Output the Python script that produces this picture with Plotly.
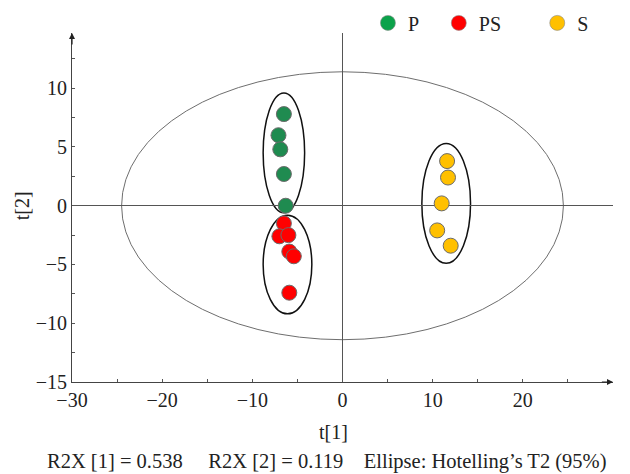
import plotly.graph_objects as go

# ---- data ----
groups = ["P", "PS", "S"]
p_t1 = [-6.5, -7.1, -6.9, -6.5, -6.3]
p_t2 = [7.8, 6.0, 4.8, 2.7, 0.0]
ps_t1 = [-6.5, -7.0, -6.0, -5.9, -5.4, -5.9]
ps_t2 = [-1.5, -2.6, -2.5, -3.9, -4.3, -7.4]
s_t1 = [11.6, 11.7, 11.0, 10.5, 12.0]
s_t2 = [3.8, 2.4, 0.2, -2.1, -3.4]

# ellipses: Hotelling T2 (big) + group ellipses
ell_cx = [0.0, -6.5, -6.1, 11.5]
ell_cy = [0.0, 4.5, -5.0, 0.2]
ell_rx = [24.5, 2.3, 2.7, 2.7]
ell_ry = [11.4, 5.1, 4.2, 5.1]

x_ticks = [-30, -20, -10, 0, 10, 20]
y_ticks = [-15, -10, -5, 0, 5, 10]
x_minor = [-25, -15, -5, 5, 15, 25]
y_minor = [-12.5, -7.5, -2.5, 2.5, 7.5, 12.5]

plot_colors = ["#1F8B50", "#FF0000", "#FFC000"]
legend_colors = ["#0BA24A", "#FF0000", "#FFC000"]

FONT = "Liberation Serif"
TXT = "#222222"

fig = go.Figure()
xs = [p_t1, ps_t1, s_t1]
ys = [p_t2, ps_t2, s_t2]
legends = ["legend", "legend2", "legend3"]
for g, x, y, c, lc, lg in zip(groups, xs, ys, plot_colors, legend_colors, legends):
    fig.add_trace(go.Scatter(
        x=x, y=y, mode="markers", showlegend=False,
        marker=dict(size=15, color=c, line=dict(color="#6b6b6b", width=1)),
        cliponaxis=False))
    fig.add_trace(go.Scatter(
        x=[None], y=[None], mode="markers", name=g, legend=lg,
        marker=dict(size=15, color=lc, line=dict(color="#8a8a8a", width=0.6))))

shapes = []
for i, (cx, cy, rx, ry) in enumerate(zip(ell_cx, ell_cy, ell_rx, ell_ry)):
    shapes.append(dict(
        type="circle", xref="x", yref="y",
        x0=cx - rx, x1=cx + rx, y0=cy - ry, y1=cy + ry,
        line=dict(color="#6e6e6e" if i == 0 else "#111111",
                  width=1 if i == 0 else 1.5),
        layer="below"))

axis_common = dict(
    showgrid=False, zeroline=True, zerolinecolor="#555555", zerolinewidth=1,
    showline=True, linecolor="#444444", linewidth=1,
    ticks="inside", ticklen=3, tickcolor="#555555", tickwidth=1,
    tickfont=dict(family=FONT, size=20, color=TXT),
)

leg_font = dict(family=FONT, size=20, color=TXT)

# page body has an 8px margin, so the figure is sized to fit the 630x474 window
fig.update_layout(
    width=622, height=466,
    margin=dict(l=64, r=17, t=25, b=92, autoexpand=False),
    plot_bgcolor="white", paper_bgcolor="white",
    font=dict(family=FONT, size=20, color=TXT),
    shapes=shapes,
    xaxis=dict(range=[-30, 30], tickvals=x_ticks,
               minor=dict(tickvals=x_minor, ticks="inside", ticklen=3,
                          tickcolor="#555555"),
               **axis_common),
    yaxis=dict(range=[-15, 14.7], tickvals=y_ticks,
               minor=dict(tickvals=y_minor, ticks="inside", ticklen=3,
                          tickcolor="#555555"),
               **axis_common),
    legend=dict(orientation="h", x=0.547, y=1.029, xanchor="left", yanchor="middle",
                font=leg_font, bgcolor="rgba(0,0,0,0)"),
    legend2=dict(orientation="h", x=0.678, y=1.029, xanchor="left", yanchor="middle",
                 font=leg_font, bgcolor="rgba(0,0,0,0)"),
    legend3=dict(orientation="h", x=0.860, y=1.029, xanchor="left", yanchor="middle",
                 font=leg_font, bgcolor="rgba(0,0,0,0)"),
    annotations=[
        dict(x=30, y=-15, ax=28.6, ay=-15, xref="x", yref="y", axref="x", ayref="y",
             showarrow=True, arrowhead=2, arrowsize=1, arrowwidth=1.2,
             arrowcolor=TXT, text=""),
        dict(x=-30, y=14.7, ax=-30, ay=13.6, xref="x", yref="y", axref="x", ayref="y",
             showarrow=True, arrowhead=2, arrowsize=1, arrowwidth=1.2,
             arrowcolor=TXT, text=""),
        dict(text="t[1]", x=0.4825, y=-0.143, xref="paper", yref="paper",
             showarrow=False, xanchor="center", yanchor="middle",
             font=dict(family=FONT, size=20, color=TXT)),
        dict(text="t[2]", x=-0.092, y=0.504, xref="paper", yref="paper",
             showarrow=False, textangle=-90, xanchor="center", yanchor="middle",
             font=dict(family=FONT, size=20, color=TXT)),
        dict(text="R2X [1] = 0.538&nbsp;&nbsp;&nbsp;&nbsp;&nbsp;R2X [2] = 0.119&nbsp;&nbsp;&nbsp;&nbsp;Ellipse: Hotelling’s T2 (95%)",
             x=0.471, y=-0.229, xref="paper", yref="paper",
             showarrow=False, xanchor="center", yanchor="middle",
             font=dict(family=FONT, size=20.5, color=TXT)),
    ],
)

fig.write_html("out.html")
